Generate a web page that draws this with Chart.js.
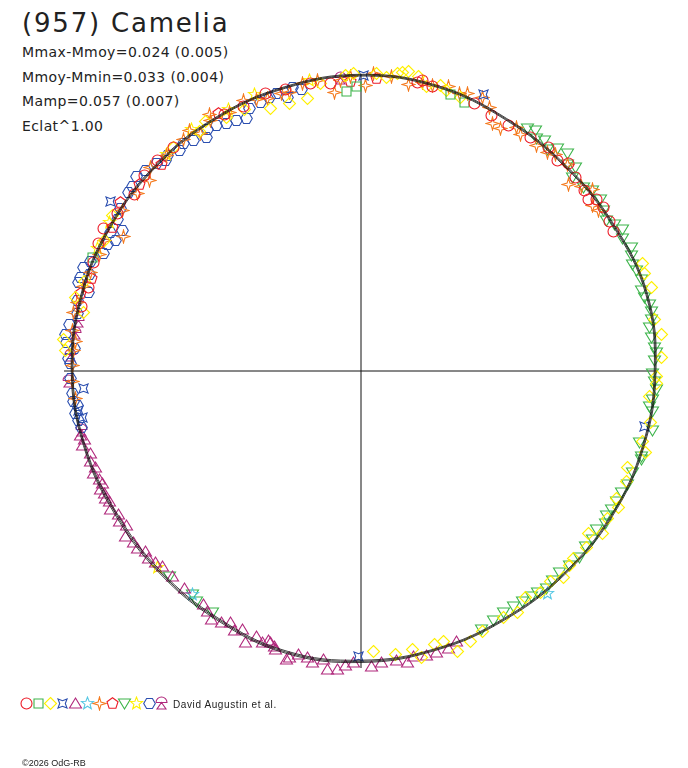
<!DOCTYPE html>
<html>
<head>
<meta charset="utf-8">
<script src="https://cdn.jsdelivr.net/npm/chart.js@4.4.1/dist/chart.umd.min.js"></script>
<style>
  body { margin: 0; background: #fff; width: 688px; height: 768px; position: relative; overflow: hidden; font-family: "DejaVu Sans", Arial, sans-serif; color: #222; }
  .txt { position: absolute; left: 22px; white-space: nowrap; }
  #titre { top: 10px; font-size: 26px; line-height: 26px; letter-spacing: 1.8px; }
  .stat { font-size: 14px; line-height: 14px; letter-spacing: 0.4px; }
  #boite { position: absolute; left: 41px; top: 51px; width: 640px; height: 640px; }
  #legende { position: absolute; left: 0; top: 696px; width: 688px; height: 16px; }
  #legende canvas { position: absolute; top: 0; }
  #auteurs { position: absolute; left: 173px; top: 700px; font-family: "Liberation Sans", Arial, sans-serif; font-size: 10px; line-height: 10px; letter-spacing: 0.6px; }
  #copy { position: absolute; left: 22px; top: 759px; font-family: "Liberation Sans", Arial, sans-serif; font-size: 9px; line-height: 9px; }
</style>
</head>
<body>
<div class="txt" id="titre">(957) Camelia</div>
<div class="txt stat" style="top:45px">Mmax-Mmoy=0.024 (0.005)</div>
<div class="txt stat" style="top:69.5px">Mmoy-Mmin=0.033 (0.004)</div>
<div class="txt stat" style="top:94px">Mamp=0.057 (0.007)</div>
<div class="txt stat" style="top:118.5px">Eclat^1.00</div>
<div id="boite"><canvas id="graphe" width="640" height="640"></canvas></div>
<div id="legende"></div>
<div id="auteurs">David Augustin et al.</div>
<div id="copy">©2026 OdG-RB</div>
<script>
// phase en degres (sens horaire depuis le haut), rayon relatif (cercle de reference = 100)
const PAS = 0.5;
const N = 720;

const fitPhase = [0, 15, 30, 45, 60, 75, 90, 105, 120, 135, 150, 165, 180, 195, 210, 225, 240, 255, 270, 285, 300, 315, 330, 345];
const fitR     = [102.2, 101.8, 100.4, 100.0, 100.7, 102.2, 101.6, 100.9, 100.0, 99.2, 99.0, 99.6, 100.3, 100.5, 99.0, 98.2, 98.0, 99.0, 99.8, 100.0, 100.0, 100.2, 100.7, 101.4];
const fitHaut  = [102.5, 102.1, 100.7, 100.3, 101.0, 102.5, 101.9, 101.2, 100.3, 99.5, 99.3, 99.9, 100.7, 100.9, 99.4, 98.6, 98.4, 99.3, 100.1, 100.3, 100.3, 100.5, 101.0, 101.7];
const fitBas   = [101.9, 101.5, 100.1, 99.7, 100.4, 101.9, 101.3, 100.6, 99.7, 98.9, 98.7, 99.3, 99.9, 100.1, 98.6, 97.8, 97.6, 98.7, 99.5, 99.7, 99.7, 99.9, 100.4, 101.1];

const ptsCercleRouge = [[283,99.2],[287,98.6],[292,99.6],[303,100.2],[308,99.3],[312,100.8],[320,100.8],[336,100.2],[341,101.4],[345,100.6],[354,100.0],[11,101.6],[12,102.6],[23,100.4],[27,99.2],[36,99.6],[40,100.8],[43,99.6],[48,99.8],[51,99.2],[53,98.6],[54,100.6],[59,100.0],
  [296,100.8],[299,101.6],[316,101.0],[332,100.4],[350,101.0],[14,101.4],[31,99.0],[45,101.6],[56,101.2],[61,99.6]];
const ptsCarreVert = [[357,96.6],[359,98.4],[18,100.6],[21,99.4],[293,100.6]];
const ptsLosangeJaune = [[345,95.6],[349,96.0],[357,102.2],[358.5,102.8],[5,101.8],[7,103.4],[8,104.0],[9,104.8],[15.5,102.3],[17,101.3],[20,100.7],
  [332,99.2],[326,100.0],[320,100.8],[341,95.8],[297,99.5],[284.5,101.9],[282,98.0],[276,103.3],[274,102.3],
  [69,104.0],[71,103.6],[74,104.3],[83,104.5],[87.5,103.9],[91,102.1],[92.5,102.2],[95,100.1],
  [110,97.9],[112.5,99.4],[116.5,98.6],[121,99.2],[124,100.5],[125.5,96.7],[128,99.0],[131.5,98.0],[133,98.7],[138,98.0],[144,96.6],[147,99.5],
  [161,102.4],[163,97.6],[165,97.9],[168,101.2],[169.5,97.8],[173,98.7],[177.5,97.0],
  [328,101.6],[336,99.0],[352,100.4],[3,103.0],[11,103.6],[13,101.0],[288,100.4],[302,101.4],[80,103.0],[100,101.6],[104,100.4],[106,102.4],[118,100.8],[135.5,100.0],[141,98.6],[150,98.2],[155,99.4],[158,100.6]];
const ptsEtoile4Bleue = [[304,104.5],[262,98.5],[266.5,96.2],[260.5,97.6],[101,99.9],[180.5,98.6],[0.5,102.0],[24,104.4]];
const ptsTriangleMagenta = [[160.5,99.1],[165,100.7],[169.7,100.2],[171,101.9],[176,101],[181.6,100.7],[184.6,103.4],[186.3,103.7],[187.7,100.5],[189.3,102],[190.7,100.7],[192.5,100.3],[193.9,101.9],[194.6,102.8],[196.8,100.5],[197.4,99.8],[198.5,98.9],[199.2,98.6],[199.8,99.7],[201.3,98.5],[203.1,102],[204.7,98.3],[207.5,97.9],[209,99.2],[211,100.1],[214,97.4],[222.5,96.3],[225.4,96.3],[228.7,97.8],[230,97.1],[231.7,98.6],[233.1,98.2],[234.9,99.5],[236.3,97],[239.4,97.4],[242.3,97.8],[243.6,98.6],[244.6,98.1],[246.6,97.3],[247.3,97.9],[248.8,99.1],[250.2,97.5],[253.2,97.6],[254.8,99.7],
  [162.5,100.4],[167,101.0],[173,100.6],[178,102.2],[183,101.8],[205.8,99.6],[212.5,98.6],[219,96.8],[226.8,97.0],[238,98.2],[241,98.8],[245.5,99.0],[251.5,98.6],[256,98.4],[257,99.6]];
const ptsEtoileCyan = [[140,100.2],[217,96.6]];
const ptsEtoile4Orange = [[329,101.0],[324.5,101.9],[329.5,103.0],[314,101.2],[344,99.9],[341,99.6],[345.5,99.3],[348.5,101.4],[351.5,101.5],[354.5,96.7],[1,98.6],[2.5,102.9],[12,101.9],[14,101.6],[19.5,101.7],[21,102.6],[24,103.4],[28,96.9],[30,96.6],[32.5,99.9],[38,98.7],[40.5,99.1],[48,96.5],[45,101.0],[52,101.6],[56,99.0],
  [312,98.1],[308.5,98.6],[299.5,94.2],[294,98.8],[290,99.3],[283.5,100.7],[281.5,101.3],[274,99.6],[271,99.7],[268,99.7],[264.5,99.1],
  [318,100.2],[322.5,100.8],[326,98.9],[333,100.2],[336.5,101.8],[339,100.6],[304,99.4],[297,99.6],[287,100.2],[278,100.5],[276,99.0],[356,100.6],[358,101.8],[6,102.2],[9.5,100.4],[17,102.8],[26,101.2],[34,98.4],[42,100.6],[50,99.4],[54.5,98.4]];
const ptsPentagoneRouge = [[300,99.0],[305,101.6],[310,100.0],[285.5,100.6],[289,98.4],[331,101.8],[358,100.2],[3,101.2],[316,99.4]];
const ptsTriangleBasVert = [[34.5,101.5],[37,100.7],[38.5,101.9],[41.5,102.6],[43.5,103.5],[45,101.0],[46.5,102.3],[47.5,99.1],[50.5,99.5],[56.5,100.3],[58.5,99.6],[61.5,102.6],[63,101.2],[65.5,102.8],[67,101.7],[68.5,100.7],
  [74,100.7],[75.5,101.1],[77,102.2],[78.5,102.3],[81.5,100.8],[83.5,101.0],[85.5,101.7],[88,101.4],[90.5,100.7],[92,101.4],[93.5,102.2],[95.5,101.1],[98,101.7],[101.5,102.7],[104.5,99.3],[107,101.3],[107.5,101.7],
  [110.5,100.0],[117,99.2],[119,98.9],[120.5,98.3],[124,98.1],[126,98.9],[130.5,99.3],[133,98.3],[135.5,97.8],[139.5,98.6],[141.5,97.8],[145,97.2],[147,96.9],[149.5,96.8],
  [223,97.2],[217,96.8],[215.5,98.0],[211.5,98.0],
  [36,102.8],[40,100.0],[52,101.4],[54.5,101.8],[60,101.0],[70,101.2],[72,102.0],[80,101.8],[86.5,102.4],[97,100.4],[113,100.2],[115,99.4],[122,99.6],[128,98.6],[137.5,98.0],[143,97.6],[152,97.8],[155,98.4]];
const ptsEtoileJaune = [[226,97.6],[318,100.5],[325,102.0],[333,101.2],[300.5,101.0],[295,100.3],[339,102.4],[350,101.8]];
const ptsHexagoneBleu = [[335.5,95.7],[333.5,96.6],[331.5,97.3],[329.5,98.3],[326.5,96.7],[324,98.4],[320.5,98.5],[318,100.1],[315.5,100.7],[341.5,99.6],[343,100.1],[345,97.9],
  [311,102.6],[309,101.5],[307.5,101.4],[304,100.3],[300.5,95.7],[298,96.1],[296.5,97.8],[294.5,97.8],[292,100.7],[290.5,102.3],[288.5,102.2],[287.5,102.2],[286,97.9],
  [277,102.8],[275.5,102.2],[272.5,101.1],[271.5,100.4],[265.5,99.9],[264,99.9],[261.5,99.8],[260,99.0],
  [313,101.8],[317,99.2],[322,99.6],[327.5,99.0],[337,98.4],[339.5,99.0],[302,99.0],[299,98.8],[289.5,99.6],[284,101.0],[281.5,100.0],[279,101.8],[274.5,99.2],[268.5,100.4],[263,98.6],[258.5,98.4],[346.5,100.8],[348,99.4]];
const ptsTreflemagenta = [[356,101.3],[280,99.2],[273,100.5],[268,101.0],[277.5,99.6],[258,98.8]];

const ROUGE = "#ec1c28", VERT = "#3cb44a", JAUNE = "#fff000", BLEU = "#2c4fb0",
      MAGENTA = "#b0287c", CYAN = "#58c8e4", ORANGE = "#f47a1e";

// petits symboles dessines a la main
function poly(g, n, r, depart) {
  for (let i = 0; i < n; i++) {
    const a = depart + i * 2 * Math.PI / n;
    const x = r * Math.cos(a), y = r * Math.sin(a);
    if (i === 0) g.moveTo(x, y); else g.lineTo(x, y);
  }
  g.closePath();
}
function etoile(g, n, rExt, rInt, depart) {
  for (let i = 0; i < 2 * n; i++) {
    const a = depart + i * Math.PI / n;
    const r = i % 2 === 0 ? rExt : rInt;
    const x = r * Math.cos(a), y = r * Math.sin(a);
    if (i === 0) g.moveTo(x, y); else g.lineTo(x, y);
  }
  g.closePath();
}
function symbole(couleur, dessin) {
  const c = document.createElement("canvas");
  c.width = 15; c.height = 15;
  const g = c.getContext("2d");
  g.strokeStyle = couleur;
  g.lineWidth = 1.1;
  g.translate(7.5, 7.5);
  g.beginPath();
  dessin(g);
  g.stroke();
  return c;
}
const HAUT = -Math.PI / 2;
const symCercle = symbole(ROUGE, g => g.arc(0, 0, 5.5, 0, 2 * Math.PI));
const symCarre = symbole(VERT, g => g.rect(-4.5, -4.5, 9, 9));
const symLosange = symbole(JAUNE, g => poly(g, 4, 6, HAUT));
const symEtoile4B = symbole(BLEU, g => etoile(g, 4, 6.4, 2.8, -Math.PI / 4));
const symTriangle = symbole(MAGENTA, g => { g.moveTo(0, -5.5); g.lineTo(6, 4.5); g.lineTo(-6, 4.5); g.closePath(); });
const symEtoileC = symbole(CYAN, g => etoile(g, 5, 6.4, 2.7, HAUT));
const symEtoile4O = symbole(ORANGE, g => etoile(g, 4, 6.4, 2.0, HAUT));
const symPentagone = symbole(ROUGE, g => poly(g, 5, 5.8, HAUT));
const symTriBas = symbole(VERT, g => { g.moveTo(-6, -4.5); g.lineTo(6, -4.5); g.lineTo(0, 5.5); g.closePath(); });
const symEtoileJ = symbole(JAUNE, g => etoile(g, 5, 6.4, 2.7, HAUT));
const symHexagone = symbole(BLEU, g => poly(g, 6, 5.8, 0));
const symTrefle = symbole(MAGENTA, g => {
  g.moveTo(-5.5, -1); g.lineTo(5.5, -1);
  g.arc(0, -1, 5.5, 0, Math.PI, true);
  g.moveTo(0, -1); g.lineTo(4.5, 5.5); g.lineTo(-4.5, 5.5); g.closePath();
});

const series = [
  [ptsCercleRouge, symCercle],
  [ptsCarreVert, symCarre],
  [ptsLosangeJaune, symLosange],
  [ptsEtoile4Bleue, symEtoile4B],
  [ptsTriangleMagenta, symTriangle],
  [ptsEtoileCyan, symEtoileC],
  [ptsEtoile4Orange, symEtoile4O],
  [ptsPentagoneRouge, symPentagone],
  [ptsTriangleBasVert, symTriBas],
  [ptsEtoileJaune, symEtoileJ],
  [ptsHexagoneBleu, symHexagone],
  [ptsTreflemagenta, symTrefle]
];

// range les points dans des tableaux de N cases (une case par demi-degre)
function repartir(points) {
  const lignes = [];
  points.forEach(([deg, r]) => {
    const k = Math.round(deg / PAS) % N;
    let ligne = lignes.find(l => l[k] === null);
    if (!ligne) { ligne = new Array(N).fill(null); lignes.push(ligne); }
    ligne[k] = r;
  });
  return lignes;
}

const labels = Array.from({ length: N }, (_, i) => String(i * PAS));
const datasets = [];

[fitR, fitHaut, fitBas].forEach(valeurs => {
  const data = repartir(fitPhase.map((p, i) => [p, valeurs[i]]))[0];
  datasets.push({
    data: data,
    borderColor: "#111",
    borderWidth: 0.8,
    pointRadius: 0,
    spanGaps: true,
    tension: 0.4,
    fill: false,
    clip: false,
    order: 0
  });
});

series.forEach(([pts, sym]) => {
  repartir(pts).forEach(data => {
    datasets.push({
      data: data,
      showLine: false,
      fill: false,
      pointStyle: sym,
      pointRadius: 8,
      clip: false,
      order: 1
    });
  });
});

const sansLissage = {
  id: "sansLissage",
  beforeDatasetsDraw(chart) { chart.ctx.imageSmoothingEnabled = false; }
};

new Chart(document.getElementById("graphe"), {
  type: "radar",
  data: { labels: labels, datasets: datasets },
  plugins: [sansLissage],
  options: {
    responsive: false,
    animation: false,
    events: [],
    layout: { padding: 23 },
    plugins: { legend: { display: false }, tooltip: { enabled: false } },
    scales: {
      r: {
        min: 0,
        max: 102.6,
        startAngle: 0,
        ticks: { display: false, stepSize: 100 },
        pointLabels: { display: false },
        grid: {
          circular: true,
          lineWidth: 1,
          color: ctx => (ctx.tick && ctx.tick.value === 100) ? "#111" : "rgba(0,0,0,0)"
        },
        angleLines: {
          color: "#111",
          lineWidth: ctx => (ctx.index % 180 === 0) ? 1 : 0
        }
      }
    }
  }
});

// legende des symboles
const legende = document.getElementById("legende");
series.forEach(([pts, sym], i) => {
  const c = document.createElement("canvas");
  c.width = 15; c.height = 15;
  c.getContext("2d").drawImage(sym, 0, 0);
  c.style.left = (18.5 + i * 12.3) + "px";
  legende.appendChild(c);
});
</script>
</body>
</html>
